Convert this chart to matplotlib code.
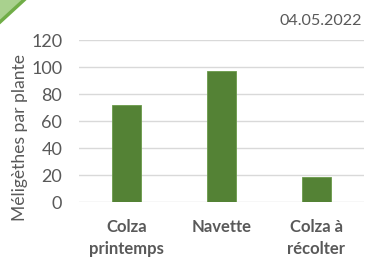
import matplotlib
matplotlib.use("Agg")
import matplotlib.pyplot as plt
from matplotlib.patches import Polygon

categories = ["Colza\nprintemps", "Navette", "Colza à\nrécolter"]
values = [72, 97, 19]
yticks = [0, 20, 40, 60, 80, 100, 120]
date_label = "04.05.2022"
ylabel = "Méligèthes par plante"

plt.rcParams['font.family'] = ['Lato', 'DejaVu Sans']
gray = "#595959"

fig = plt.figure(figsize=(3.65, 2.57), dpi=100)
ax = fig.add_axes([79/365, 1-202.3/257, 285/365, 162/257])

x = list(range(len(categories)))
ax.bar(x, values, width=0.31, color="#548235", edgecolor="#6a9a4a", linewidth=0.6, zorder=3)
ax.set_xlim(-0.5, len(categories)-0.5)
ax.set_ylim(0, 120)
ax.set_yticks(yticks)
ax.set_yticklabels([str(t) for t in yticks], fontsize=13, color=gray)
ax.set_xticks(x)
ax.set_xticklabels(categories, fontsize=12, fontweight='bold', color=gray, linespacing=1.5)
ax.tick_params(axis='y', length=0, pad=12)
ax.tick_params(axis='x', length=0, pad=12)
ax.grid(axis='y', color="#D9D9D9", linewidth=1, zorder=0)
for s in ax.spines.values():
    s.set_visible(False)

fig.text(20/365, 1-137.5/257, ylabel, rotation=90, fontsize=12.6, color=gray, ha='center', va='center')
fig.text(362/365, 1-21/257, date_label, fontsize=11.6, color=gray, ha='right', va='center')

tri = Polygon([(0, 1), (24/365, 1), (0, 1-22/257)], closed=True, transform=fig.transFigure,
              facecolor="#A9D18E", edgecolor="none")
fig.add_artist(tri)
fig.add_artist(plt.Line2D([24/365, 0], [1, 1-22/257], transform=fig.transFigure, color="#70AD47", linewidth=2.5))

fig.savefig("out.png", dpi=100)
